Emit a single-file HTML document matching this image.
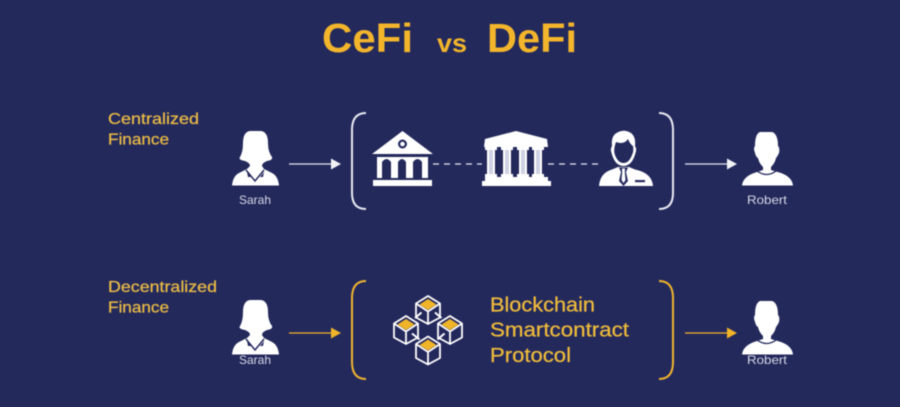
<!DOCTYPE html>
<html><head><meta charset="utf-8"><style>
html,body{margin:0;padding:0;background:#24295c}
svg{display:block;filter:blur(.45px)}
text{font-family:"Liberation Sans",sans-serif}
</style></head><body>
<svg width="900" height="407" viewBox="0 0 900 407" xmlns="http://www.w3.org/2000/svg">
<defs>
<g id="sarah">
<path fill="#fff" d="M250 131H261Q268 132 268 143Q268 152 272 157Q273 160 267 161Q262 163 262 166L264 169L272 173Q278 176 279 185.500H232Q233 176 239 173L247 169L250 166Q250 163 245 161Q238 160 240 157Q243 152 243 143Q243 132 250 131Z"/>
<path fill="none" stroke="#24295c" stroke-width="1.5" d="M246 170L255 181L264 170"/>
<path fill="#24295c" d="M247 172L251 177L248 177ZM264 172L260 177L263 177Z"/>
</g>
<g id="robert">
<path fill="#fff" d="M760 132H772Q778 134 778 146Q780 148 779 153Q777 157 776 158Q775 163 771 167V170L781 173Q792 177 793 185.500H742Q743 177 754 173L763 170V167Q759 163 758 158Q756 157 755 153Q753 148 755 146Q755 134 760 132Z"/>
<path fill="none" stroke="#24295c" stroke-width="1.3" d="M757 171Q767 178 776 171"/>
</g>
<g id="cube">
<path fill="#f0b429" d="M0 -5.500L8.500 0L0 5.500L-8.500 0Z"/>
<path fill="none" stroke="#fff" stroke-width="1.8" stroke-linejoin="round" d="M0 -8.500L12 -1V13L0 19.500L-12 13V-1ZM-12 -1L0 7L12 -1M0 7V19.500"/>
</g>
</defs>
<rect width="900" height="407" fill="#24295c"/>

<g fill="#f2b52b" font-weight="bold">
<text x="322" y="52" font-size="41" textLength="91" lengthAdjust="spacingAndGlyphs">CeFi</text>
<text x="437" y="52" font-size="26" textLength="30" lengthAdjust="spacingAndGlyphs">vs</text>
<text x="487" y="52" font-size="41" textLength="90" lengthAdjust="spacingAndGlyphs">DeFi</text>
</g>

<g fill="#eabb45" stroke="#eabb45" stroke-width=".25" font-size="16">
<text x="108" y="124" textLength="91" lengthAdjust="spacingAndGlyphs">Centralized</text>
<text x="108" y="144.500" textLength="61" lengthAdjust="spacingAndGlyphs">Finance</text>
<text x="108" y="292" textLength="109" lengthAdjust="spacingAndGlyphs">Decentralized</text>
<text x="108" y="312.500" textLength="61" lengthAdjust="spacingAndGlyphs">Finance</text>
</g>

<use href="#sarah"/>
<use href="#robert"/>
<use href="#sarah" y="169"/>
<use href="#robert" y="169"/>

<g fill="#d5d8e6" font-size="12">
<text x="239" y="204" textLength="32" lengthAdjust="spacingAndGlyphs">Sarah</text>
<text x="747" y="204" textLength="40" lengthAdjust="spacingAndGlyphs">Robert</text>
<text x="239" y="364" textLength="32" lengthAdjust="spacingAndGlyphs">Sarah</text>
<text x="747" y="364" textLength="40" lengthAdjust="spacingAndGlyphs">Robert</text>
</g>

<!-- top arrows -->
<g stroke="#e6e8f0" stroke-width="1.3" fill="none">
<path d="M289 164H333M685 164H729"/>
<path stroke-width="2" d="M366 113Q352 113 352 130V193Q352 209 366 209M659 113Q673 113 673 130V193Q673 209 659 209"/>
<path stroke-dasharray="6 5" d="M433 164H482M548 164H600"/>
</g>
<path fill="#f2f3f7" d="M331 158.500L341 164L331 169.500ZM727 158.500L737 164L727 169.500Z"/>

<!-- bottom arrows -->
<g stroke="#eeb32e" stroke-width="1.3" fill="none">
<path d="M289 333H333M685 333H729"/>
<path stroke-width="2" d="M366 281Q352 281 352 298V362Q352 379 366 379M659 281Q673 281 673 298V362Q673 379 659 379"/>
</g>
<path fill="#f0b429" d="M331 327.500L341 333L331 338.500ZM727 327.500L737 333L727 338.500Z"/>

<!-- bank 1 -->
<g fill="#fff">
<path d="M402.500 131L433 154H372Z"/>
<rect x="377" y="157" width="51" height="21"/>
<rect x="373" y="180" width="59" height="6"/>
</g>
<g fill="#24295c">
<circle cx="402.500" cy="144" r="4.500"/>
<path d="M382 178V162Q386.500 156 391 162V178ZM398 178V162Q402 156 406 162V178ZM413 178V162Q417.500 156 422 162V178Z"/>
</g>
<circle cx="402.500" cy="144" r="2.300" fill="#fff"/>

<!-- bank 2 -->
<g fill="#fff">
<path d="M516 131L547 139L548 147H484L485 139Z"/>
<path d="M485 147H497V150H495V174H497V178H485V174H487V150H485ZM501 147H513V150H511V174H513V178H501V174H503V150H501ZM517 147H529V150H527V174H529V178H517V174H519V150H517ZM532 147H544V150H542V174H544V178H532V174H534V150H532Z"/>
<path d="M485 177H548V181H551V186H482V181H485Z"/>
</g>
<g fill="#cfd2e3">
<rect x="489" y="150" width="4" height="24"/>
<rect x="505" y="150" width="4" height="24"/>
<rect x="521" y="150" width="4" height="24"/>
<rect x="536" y="150" width="4" height="24"/>
</g>

<!-- banker -->
<path fill="#fff" d="M615 134Q623 128 631 133Q636 137 635 146Q637 149 635.500 153Q632 166 623.500 166Q615 166 611.500 153Q610 149 612 146Q611 138 615 134Z"/>
<path fill="#24295c" d="M616 142Q624 145 628 139Q630 144 633 146Q634 151 632 155Q629 163 623.500 163Q618 163 615 155Q613 150 616 142Z"/>
<path fill="#fff" d="M612 169.500L618 167H629L635 169.500Q652 173 653 186H599Q600 173 612 169.500Z"/>
<path fill="#24295c" d="M619 167.500H628L626 172L628 181L623.500 186L619 181L621 172Z"/>
<path fill="#fff" d="M622 168.500H625L624.800 172L625.500 180L623.500 183L621.500 180L622.200 172Z"/>
<rect x="635" y="180" width="10" height="2.200" fill="#24295c"/>

<!-- blockchain icon -->
<g stroke="#fff" stroke-width="2" fill="none">
<path d="M421.500 312.500L415 318M435 312.500L441.500 318M412 333.500L419.500 339.500M444.500 333.500L437.500 339.500"/>
</g>
<use href="#cube" x="428" y="304.500"/>
<use href="#cube" x="406" y="324.500"/>
<use href="#cube" x="450" y="324.500"/>
<use href="#cube" x="428" y="345"/>

<g fill="#eebb3b" stroke="#eebb3b" stroke-width=".25" font-size="20">
<text x="490" y="311.500" textLength="105" lengthAdjust="spacingAndGlyphs">Blockchain</text>
<text x="490" y="336.500" textLength="139" lengthAdjust="spacingAndGlyphs">Smartcontract</text>
<text x="490" y="362" textLength="81" lengthAdjust="spacingAndGlyphs">Protocol</text>
</g>
</svg>
</body></html>
